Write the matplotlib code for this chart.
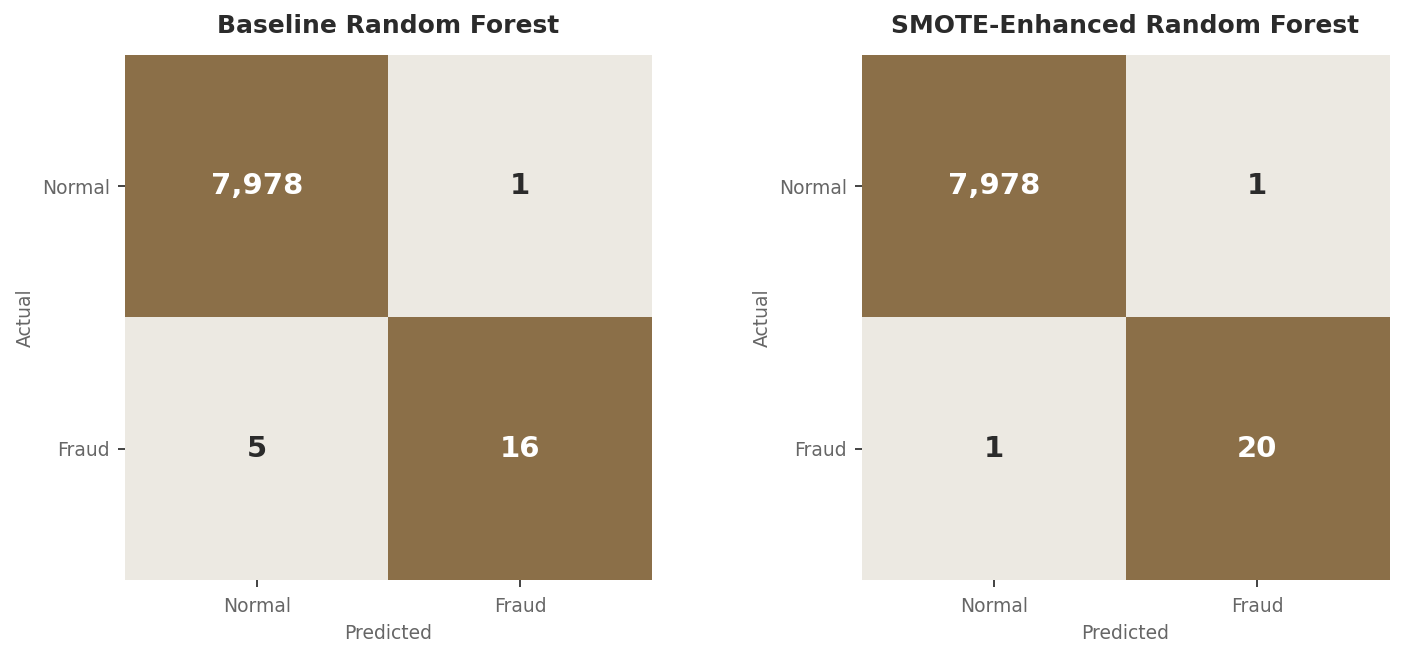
import matplotlib.pyplot as plt
import numpy as np
from matplotlib.colors import ListedColormap

labels = ["Normal", "Fraud"]
titles = ["Baseline Random Forest", "SMOTE-Enhanced Random Forest"]
cm_baseline = np.array([[7978, 1], [5, 16]])
cm_smote = np.array([[7978, 1], [1, 20]])

light = "#ECE9E2"
dark = "#8B6F48"
cmap = ListedColormap([light, dark])

fig = plt.figure(figsize=(14.02, 6.57), dpi=100)
W, H = 1402, 657
lefts = [125, 862]

for left, cm, title in zip(lefts, [cm_baseline, cm_smote], titles):
    ax = fig.add_axes([left / W, 1 - 580 / H, 527 / W, 525 / H])
    # row-normalised so the diagonal shows dark
    norm_rows = cm / cm.sum(axis=1, keepdims=True)
    ax.imshow(norm_rows >= 0.5, cmap=cmap, vmin=0, vmax=1, aspect="auto",
              interpolation="nearest")
    for i in range(2):
        for j in range(2):
            on_dark = norm_rows[i, j] >= 0.5
            ax.text(j, i, f"{cm[i, j]:,}", ha="center", va="center",
                    fontsize=21, fontweight="bold",
                    color="white" if on_dark else "#2b2b2b")
    ax.set_xticks([0, 1])
    ax.set_yticks([0, 1])
    ax.set_xticklabels(labels)
    ax.set_yticklabels(labels)
    ax.tick_params(axis="both", labelsize=13.5, labelcolor="#666666",
                   color="#222222", length=5, width=1.2)
    ax.tick_params(axis="x", pad=7)
    ax.tick_params(axis="y", pad=6)
    for s in ax.spines.values():
        s.set_visible(False)
    ax.set_xlabel("Predicted", fontsize=13.5, color="#666666", labelpad=6)
    ax.set_ylabel("Actual", fontsize=13.5, color="#666666", labelpad=5)
    ax.set_title(title, fontsize=18, fontweight="bold", color="#2b2b2b", pad=16)

fig.savefig("out.png", dpi=100)
